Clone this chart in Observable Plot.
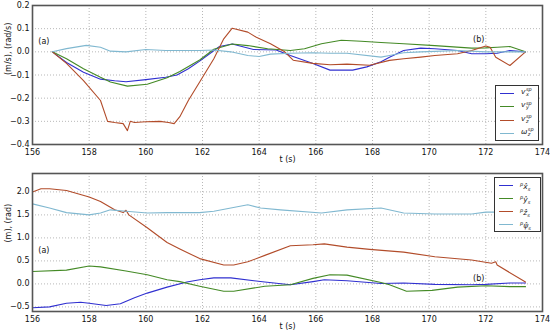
<!DOCTYPE html>
<html>
<head>
<meta charset="utf-8">
<script src="https://cdn.jsdelivr.net/npm/d3@7"></script>
<script src="https://cdn.jsdelivr.net/npm/@observablehq/plot@0.6"></script>
<style>
  html, body { margin: 0; padding: 0; background: #fff; }
  #wrap { position: relative; width: 550px; height: 334px; overflow: hidden; font-family: "DejaVu Sans", sans-serif; }
  .panel { position: absolute; left: 0; }
  .legend { position: absolute; background: #fff; border: 1.5px solid #333; box-sizing: border-box; }
  .entry { position: absolute; left: 0; height: 10px; width: 100%; }
  .swatch { position: absolute; left: 4px; top: 5px; width: 14px; height: 0; border-top: 1.2px solid; }
  .lab { position: absolute; left: 25px; top: -1px; font-size: 7.5px; font-style: italic; color: #222; white-space: nowrap; line-height: 10px; }
  .ss { display: inline-flex; flex-direction: column; font-size: 5px; line-height: 4.5px; vertical-align: middle; margin-left: 0.5px; }
  .pre { font-size: 5px; vertical-align: 3px; }
  .post { font-size: 5px; vertical-align: -2px; }
</style>
</head>
<body>
<div id="wrap"></div>
<script>
// ---------------- data: top panel (velocities) ----------------
const xTicks = [156, 158, 160, 162, 164, 166, 168, 170, 172, 174];
const yTicksTop = [-0.4, -0.3, -0.2, -0.1, 0.0, 0.1, 0.2];
const yTicksBottom = [-0.5, 0.0, 0.5, 1.0, 1.5, 2.0];

const tVx = [156.7, 157.2, 157.8, 158.4, 158.9, 159.3, 160.0, 160.7, 161.1, 161.5, 161.9, 162.6, 163.05, 163.8, 164.6, 165.1, 165.9, 166.5, 167.3, 167.8, 168.3, 168.6, 169.1, 169.7, 170.2, 171.0, 171.5, 172.0, 172.4, 172.85, 173.4];
const vx  = [0, -0.046, -0.088, -0.118, -0.125, -0.129, -0.12, -0.11, -0.1, -0.073, -0.04, 0.023, 0.034, 0.01, 0.008, -0.016, -0.05, -0.079, -0.079, -0.065, -0.043, -0.023, 0.006, 0.016, 0.013, 0.006, -0.008, -0.008, -0.006, 0.006, 0];

const tVy = [156.7, 157.2, 157.8, 158.4, 158.75, 159.35, 160.05, 160.75, 161.2, 161.9, 162.4, 163.05, 163.6, 164.3, 165.1, 165.6, 166.2, 166.9, 167.6, 168.3, 169.1, 170.2, 171.5, 172.0, 172.4, 172.85, 173.4];
const vy  = [0, -0.03, -0.073, -0.11, -0.13, -0.148, -0.14, -0.112, -0.085, -0.035, 0.011, 0.034, 0.027, 0.013, 0.006, 0.013, 0.035, 0.05, 0.046, 0.04, 0.035, 0.027, 0.016, 0.017, 0.02, 0.023, 0];

const tVz = [156.7, 157.2, 157.8, 158.4, 158.65, 158.9, 159.2, 159.35, 159.45, 159.6, 160.0, 160.5, 160.8, 161.0, 161.2, 161.5, 161.9, 162.4, 162.75, 163.05, 163.6, 163.9, 164.4, 164.9, 165.2, 165.9, 166.5, 167.1, 167.9, 168.6, 169.1, 169.7, 170.2, 171.0, 171.5, 172.0, 172.15, 172.35, 172.85, 173.4];
const vz  = [0, -0.05, -0.124, -0.21, -0.3, -0.305, -0.31, -0.34, -0.3, -0.305, -0.302, -0.3, -0.305, -0.31, -0.28, -0.21, -0.13, -0.03, 0.056, 0.102, 0.085, 0.063, 0.035, 0.0, -0.036, -0.05, -0.056, -0.053, -0.058, -0.037, -0.03, -0.023, -0.016, -0.008, 0.006, 0.025, 0.02, -0.023, -0.059, 0];

const tWz = [156.7, 157.2, 157.9, 158.4, 158.75, 159.3, 160.0, 160.7, 161.9, 162.4, 163.0, 163.6, 164.0, 164.4, 165.1, 165.9, 166.5, 167.1, 168.3, 168.6, 169.1, 169.7, 170.2, 171.0, 172.0, 172.85, 173.4];
const wz  = [0, 0.014, 0.028, 0.02, 0.003, 0, 0.01, 0.006, 0.006, 0.008, 0, -0.016, -0.02, -0.01, -0.006, -0.004, -0.006, -0.006, -0.023, -0.016, -0.004, 0, 0.002, 0.006, 0, 0, 0];

// ---------------- data: bottom panel (positions) ----------------
const tPx = [156.0, 156.6, 157.2, 157.7, 158.0, 158.6, 159.1, 159.6, 160.05, 160.75, 161.45, 161.9, 162.4, 163.0, 164.2, 165.1, 165.9, 166.3, 167.1, 168.3, 169.1, 170.2, 171.5, 172.0, 172.85, 173.4];
const px  = [-0.52, -0.5, -0.42, -0.4, -0.42, -0.47, -0.43, -0.3, -0.2, -0.07, 0.04, 0.09, 0.13, 0.13, 0.04, -0.02, 0.05, 0.09, 0.07, 0.01, 0.02, -0.01, -0.02, -0.01, 0.02, 0.02];

const tPy = [156.0, 157.2, 158.0, 158.4, 159.3, 160.05, 160.75, 161.2, 161.9, 162.75, 163.1, 164.2, 165.1, 165.9, 166.5, 167.1, 168.3, 168.6, 169.2, 170.1, 171.0, 172.0, 172.85, 173.4];
const py  = [0.27, 0.3, 0.39, 0.37, 0.28, 0.2, 0.09, 0.05, -0.05, -0.16, -0.16, -0.05, -0.02, 0.12, 0.2, 0.19, 0.03, -0.02, -0.16, -0.14, -0.07, -0.04, -0.06, -0.06];

const tPz = [156.0, 156.3, 156.6, 157.2, 157.6, 158.0, 158.4, 158.9, 159.2, 159.3, 159.4, 160.05, 160.75, 161.2, 161.9, 162.75, 163.1, 163.6, 164.2, 165.1, 165.9, 166.3, 167.1, 167.9, 169.1, 170.2, 171.5, 172.2, 172.35, 172.4, 173.4];
const pz  = [2.0, 2.07, 2.07, 2.03, 1.96, 1.89, 1.79, 1.61, 1.55, 1.6, 1.5, 1.22, 0.9, 0.76, 0.55, 0.41, 0.41, 0.48, 0.62, 0.83, 0.85, 0.87, 0.8, 0.75, 0.69, 0.59, 0.52, 0.45, 0.48, 0.41, 0.04];

const tPpsi = [156.0, 156.6, 157.2, 158.0, 158.4, 158.75, 159.3, 160.05, 160.75, 161.9, 162.4, 163.0, 163.6, 164.05, 164.75, 166.2, 167.1, 168.3, 169.1, 170.2, 171.5, 172.0, 173.4];
const ppsi  = [1.74, 1.65, 1.55, 1.5, 1.54, 1.61, 1.58, 1.54, 1.55, 1.55, 1.58, 1.65, 1.72, 1.65, 1.61, 1.54, 1.61, 1.65, 1.54, 1.52, 1.52, 1.56, 1.56];

const colors = ["#3030d0", "#448a26", "#b24c2a", "#80b8d0"];
const topLabelsT = [156.4, 171.75];
const topLabelsV = [0.045, 0.053];
const botLabelsT = [156.4, 171.75];
const botLabelsV = [0.73, 0.12];
const panelLabels = ["(a)", "(b)"];

function series(ts, vs, k) { return ts.map((t, i) => ({t, v: vs[i], k})); }

const topData = [series(tVx, vx, 0), series(tVy, vy, 1), series(tVz, vz, 2), series(tWz, wz, 3)];
const botData = [series(tPx, px, 0), series(tPy, py, 1), series(tPz, pz, 2), series(tPpsi, ppsi, 3)];

const fmt = d3.format(".1f");
const style = {fontFamily: "DejaVu Sans, sans-serif", fontSize: "8px", color: "#111", background: "transparent", overflow: "visible"};

function panel({data, yDomain, yTicks, height, marginTop, marginBottom, yLabel, labT, labV}) {
  const labels = panelLabels.map((s, i) => ({s, t: labT[i], v: labV[i]}));
  const mid = (yDomain[0] + yDomain[1]) / 2;
  return Plot.plot({
    width: 550, height, marginLeft: 32, marginRight: 8, marginTop, marginBottom,
    style,
    x: {domain: [156, 174]},
    y: {domain: yDomain},
    marks: [
      Plot.gridX(xTicks, {stroke: "#9a9a9a", strokeOpacity: 1, strokeDasharray: "1,2", strokeWidth: 0.7}),
      Plot.gridY(yTicks, {stroke: "#9a9a9a", strokeOpacity: 1, strokeDasharray: "1,2", strokeWidth: 0.7}),
      ...data.map(d => Plot.line(d, {x: "t", y: "v", stroke: colors[d[0].k], strokeWidth: 1.1})),
      Plot.text(labels, {x: "t", y: "v", text: "s", fontSize: 8, fill: "#111"}),
      Plot.frame({stroke: "#555", strokeWidth: 1.6}),
      Plot.axisX(xTicks, {tickSize: 0, tickPadding: 5, label: "t (s)", labelAnchor: "center", labelArrow: "none", labelOffset: 17}),
      Plot.axisY(yTicks, {tickSize: 0, tickPadding: 3, tickFormat: fmt, label: null}),
      Plot.text([yLabel], {frameAnchor: "left", dx: -24, rotate: -90, fontSize: 8, fill: "#111", text: d => d})
    ]
  });
}

const wrap = document.getElementById("wrap");

const topChart = panel({data: topData, yDomain: [-0.4, 0.2], yTicks: yTicksTop, height: 166, marginTop: 5, marginBottom: 22,
  yLabel: "(m/s), (rad/s)", labT: topLabelsT, labV: topLabelsV});
const d1 = document.createElement("div"); d1.className = "panel"; d1.style.top = "0px"; d1.appendChild(topChart); wrap.appendChild(d1);

const botChart = panel({data: botData, yDomain: [-0.6, 2.4], yTicks: yTicksBottom, height: 168, marginTop: 7, marginBottom: 23,
  yLabel: "(m), (rad)", labT: botLabelsT, labV: botLabelsV});
const d2 = document.createElement("div"); d2.className = "panel"; d2.style.top = "166px"; d2.appendChild(botChart); wrap.appendChild(d2);

// ---------------- legends ----------------
const topLegendLabels = [
  '<i>v</i><span class="ss"><span>sp</span><span>x</span></span>',
  '<i>v</i><span class="ss"><span>sp</span><span>y</span></span>',
  '<i>v</i><span class="ss"><span>sp</span><span>z</span></span>',
  '<i>ω</i><span class="ss"><span>sp</span><span>z</span></span>'
];
const botLegendLabels = [
  '<span class="pre">p</span><i>x̂</i><span class="post">s</span>',
  '<span class="pre">p</span><i>ŷ</i><span class="post">s</span>',
  '<span class="pre">p</span><i>ẑ</i><span class="post">s</span>',
  '<span class="pre">p</span><i>ψ̂</i><span class="post">s</span>'
];
function legend(labels, left, topPx, w, h, step, first) {
  const box = document.createElement("div");
  box.className = "legend";
  Object.assign(box.style, {left: left + "px", top: topPx + "px", width: w + "px", height: h + "px"});
  labels.forEach((html, i) => {
    const e = document.createElement("div");
    e.className = "entry";
    e.style.top = (first + i * step) + "px";
    e.innerHTML = `<div class="swatch" style="border-color:${colors[i]}"></div><div class="lab">${html}</div>`;
    box.appendChild(e);
  });
  wrap.appendChild(box);
}
legend(topLegendLabels, 495, 85, 44, 56, 13.3, 2);
legend(botLegendLabels, 494, 177, 47, 55, 13, 2);
</script>
</body>
</html>
